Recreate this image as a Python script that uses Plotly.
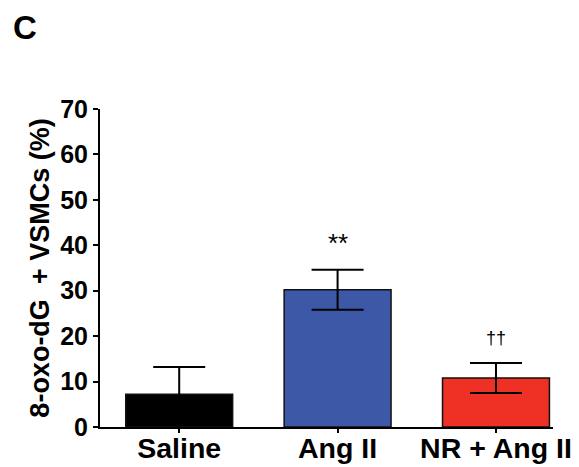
import plotly.graph_objects as go

categories = ["Saline", "Ang II", "NR + Ang II"]
means = [7.2, 30.2, 10.8]
sems = [6.0, 4.4, 3.3]
bar_colors = ["#000000", "#3D58A7", "#EE3124"]
sig_labels = ["", "**", "††"]
sig_y = [None, 40.6, 19.6]
y_ticks = [0, 10, 20, 30, 40, 50, 60, 70]

x_idx = list(range(len(categories)))

fig = go.Figure()
fig.add_trace(go.Bar(
    x=x_idx, y=means,
    width=0.675,
    marker=dict(color=bar_colors, line=dict(color="#111111", width=1.5)),
    error_y=dict(type="data", array=sems, visible=True, color="#000000",
                 thickness=2, width=26),
    showlegend=False,
))

for i, (lab, yy) in enumerate(zip(sig_labels, sig_y)):
    if lab:
        fig.add_annotation(x=i, y=yy, text=lab, showarrow=False,
                           font=dict(size=26 if lab == "**" else 18, color="#000000",
                                     family="Liberation Sans, Arial"),
                           yanchor="middle")

fig.add_annotation(xref="paper", yref="paper", x=-0.197, y=1.322,
                   text="<b>C</b>", showarrow=False, xanchor="left", yanchor="top",
                   font=dict(size=33, color="#000000", family="Liberation Sans, Arial"))

fig.update_layout(
    width=579, height=467,
    margin=dict(l=100, r=26, t=109, b=40),
    paper_bgcolor="white", plot_bgcolor="white",
    font=dict(family="Liberation Sans, Arial", color="#000000"),
)
fig.update_xaxes(
    range=[-0.5, 2.36], automargin=False,
    tickvals=x_idx, ticktext=["<b>%s</b>" % c for c in categories],
    tickfont=dict(size=28.5, color="#000000"),
    ticklabelstandoff=-9,
    showline=True, linecolor="#000000", linewidth=2,
    ticks="outside", ticklen=4, tickwidth=1.5, tickcolor="#000000",
    showgrid=False, zeroline=False,
)
fig.update_yaxes(
    range=[0, 70], automargin=False,
    tickvals=y_ticks, ticktext=["<b>%d</b>" % v for v in y_ticks],
    tickfont=dict(size=25, color="#000000"),
    showline=True, linecolor="#000000", linewidth=2,
    ticks="outside", ticklen=5, tickwidth=1.5, tickcolor="#000000",
    showgrid=False, zeroline=False,
    title=dict(text="<b>8-oxo-dG\u00a0 + VSMCs (%)</b>", font=dict(size=27, color="#000000"),
               standoff=3),
)

# remove the page's default 8px body margin so the figure fills the window exactly
fig.write_html("out.html", config={"displayModeBar": False},
               post_script="document.body.style.margin='0';document.body.style.overflow='hidden';")
